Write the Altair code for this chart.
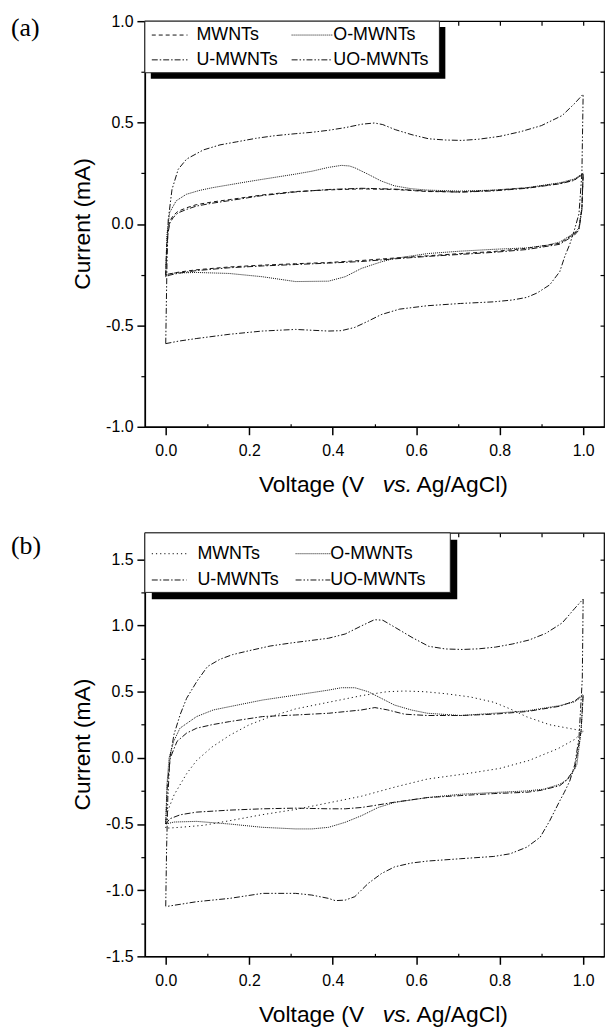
import altair as alt
import pandas as pd

FONT = "Liberation Sans"
SERIES = ["MWNTs", "O-MWNTs", "U-MWNTs", "UO-MWNTs"]
STYLES = ["dash", "fine", "dashdot", "dashdotdot", "sparse"]
DASHES = [[4, 3], [1, 1], [6, 2, 1.5, 2], [6, 2, 1.5, 2, 1.5, 2], [1.2, 3]]
X_MAJOR = [0.0, 0.2, 0.4, 0.6, 0.8, 1.0]
X_MINOR = [0.1, 0.3, 0.5, 0.7, 0.9]
X_TITLE = ["Voltage (V", "vs.", "Ag/AgCl)"]
Y_TITLE = "Current (mA)"
TAGS = ["(a)", "(b)"]

# ---------------- panel (a) ----------------
A_MWNT_VF = [0.0, 0.002, 0.005, 0.01, 0.018, 0.03, 0.05, 0.073, 0.11, 0.152, 0.231, 0.311, 0.39, 0.469, 0.548, 0.627, 0.706, 0.785, 0.865, 0.944, 0.979, 1.0]
A_MWNT_IF = [-0.25, -0.12, -0.03, 0.015, 0.042, 0.063, 0.08, 0.095, 0.108, 0.12, 0.143, 0.16, 0.168, 0.173, 0.17, 0.16, 0.158, 0.166, 0.178, 0.2, 0.218, 0.245]
A_MWNT_VR = [1.0, 0.997, 0.99, 0.979, 0.944, 0.865, 0.785, 0.706, 0.627, 0.548, 0.469, 0.39, 0.311, 0.231, 0.152, 0.073, 0.03, 0.01, 0.0]
A_MWNT_IR = [0.245, 0.08, -0.02, -0.048, -0.095, -0.12, -0.136, -0.146, -0.157, -0.168, -0.18, -0.19, -0.196, -0.203, -0.212, -0.226, -0.238, -0.246, -0.25]

A_U_VF = A_MWNT_VF
A_U_IF = [-0.26, -0.14, -0.05, 0.005, 0.032, 0.055, 0.072, 0.088, 0.102, 0.115, 0.14, 0.158, 0.17, 0.176, 0.172, 0.162, 0.157, 0.163, 0.176, 0.198, 0.215, 0.25]
A_U_VR = A_MWNT_VR
A_U_IR = [0.25, 0.07, -0.03, -0.055, -0.1, -0.126, -0.14, -0.15, -0.16, -0.172, -0.185, -0.193, -0.2, -0.207, -0.216, -0.23, -0.243, -0.252, -0.26]

A_O_VF = [0.0, 0.003, 0.0095, 0.025, 0.049, 0.08, 0.112, 0.152, 0.192, 0.231, 0.271, 0.311, 0.35, 0.39, 0.421, 0.44, 0.453, 0.485, 0.516, 0.548, 0.588, 0.627, 0.706, 0.785, 0.865, 0.944, 0.979, 1.0]
A_O_IF = [-0.25, -0.05, 0.057, 0.114, 0.146, 0.165, 0.179, 0.193, 0.207, 0.22, 0.233, 0.246, 0.26, 0.279, 0.289, 0.286, 0.277, 0.245, 0.212, 0.188, 0.174, 0.167, 0.162, 0.167, 0.179, 0.203, 0.222, 0.25]
A_O_VR = [1.0, 0.997, 0.99, 0.979, 0.944, 0.913, 0.865, 0.785, 0.706, 0.627, 0.548, 0.516, 0.469, 0.43, 0.39, 0.311, 0.231, 0.152, 0.073, 0.02, 0.0]
A_O_IR = [0.25, 0.08, -0.02, -0.045, -0.089, -0.105, -0.118, -0.125, -0.134, -0.146, -0.17, -0.187, -0.219, -0.26, -0.282, -0.284, -0.26, -0.244, -0.239, -0.242, -0.25]

A_UO_VF = [0.0, 0.003, 0.006, 0.015, 0.03, 0.05, 0.09, 0.13, 0.17, 0.215, 0.26, 0.31, 0.35, 0.39, 0.43, 0.47, 0.5, 0.52, 0.55, 0.59, 0.63, 0.67, 0.71, 0.75, 0.8, 0.85, 0.9, 0.95, 0.98, 1.0]
A_UO_IF = [-0.59, -0.2, 0.02, 0.17, 0.27, 0.32, 0.365, 0.39, 0.405, 0.422, 0.435, 0.445, 0.452, 0.462, 0.475, 0.492, 0.498, 0.49, 0.465, 0.44, 0.42, 0.414, 0.412, 0.418, 0.432, 0.455, 0.485, 0.535, 0.595, 0.64]
A_UO_VR = [1.0, 0.997, 0.99, 0.979, 0.968, 0.956, 0.944, 0.92, 0.89, 0.865, 0.83, 0.785, 0.706, 0.627, 0.56, 0.516, 0.485, 0.453, 0.421, 0.39, 0.35, 0.311, 0.231, 0.152, 0.073, 0.03, 0.0]
A_UO_IR = [0.64, 0.25, 0.05, -0.03, -0.1, -0.16, -0.235, -0.3, -0.34, -0.362, -0.375, -0.384, -0.392, -0.403, -0.42, -0.447, -0.479, -0.51, -0.526, -0.528, -0.524, -0.52, -0.528, -0.544, -0.565, -0.578, -0.59]

# ---------------- panel (b) ----------------
B_MWNT_VF = [0.0, 0.005, 0.02, 0.05, 0.074, 0.11, 0.153, 0.2, 0.25, 0.311, 0.39, 0.469, 0.53, 0.572, 0.62, 0.67, 0.73, 0.786, 0.825, 0.865, 0.92, 0.98, 1.0]
B_MWNT_IF = [-0.53, -0.4, -0.28, -0.12, -0.02, 0.08, 0.17, 0.25, 0.31, 0.37, 0.42, 0.47, 0.5, 0.505, 0.5, 0.485, 0.46, 0.42, 0.37, 0.31, 0.25, 0.215, 0.2]
B_MWNT_VR = [1.0, 0.98, 0.94, 0.87, 0.8, 0.72, 0.627, 0.55, 0.469, 0.39, 0.311, 0.23, 0.153, 0.09, 0.034, 0.01, 0.0]
B_MWNT_IR = [0.2, 0.14, 0.07, -0.02, -0.08, -0.12, -0.16, -0.22, -0.29, -0.34, -0.39, -0.43, -0.475, -0.51, -0.525, -0.53, -0.53]

B_O_VF = [0.0, 0.003, 0.008, 0.019, 0.034, 0.074, 0.114, 0.153, 0.232, 0.311, 0.39, 0.421, 0.453, 0.485, 0.517, 0.548, 0.588, 0.627, 0.707, 0.786, 0.865, 0.944, 0.98, 1.0]
B_O_IF = [-0.5, -0.2, 0.0, 0.124, 0.224, 0.312, 0.362, 0.387, 0.437, 0.474, 0.512, 0.53, 0.53, 0.5, 0.449, 0.399, 0.362, 0.337, 0.32, 0.337, 0.355, 0.395, 0.424, 0.47]
B_O_VR = [1.0, 0.995, 0.985, 0.968, 0.944, 0.905, 0.865, 0.786, 0.707, 0.627, 0.548, 0.509, 0.469, 0.43, 0.39, 0.35, 0.311, 0.232, 0.153, 0.074, 0.02, 0.0]
B_O_IR = [0.47, 0.2, -0.05, -0.15, -0.2, -0.237, -0.25, -0.262, -0.275, -0.3, -0.337, -0.375, -0.437, -0.487, -0.525, -0.537, -0.537, -0.525, -0.5, -0.48, -0.485, -0.5]

B_U_VF = [0.0, 0.004, 0.011, 0.027, 0.05, 0.074, 0.11, 0.153, 0.232, 0.311, 0.39, 0.469, 0.501, 0.532, 0.572, 0.627, 0.707, 0.786, 0.865, 0.944, 0.98, 1.0]
B_U_IF = [-0.5, -0.2, 0.0, 0.124, 0.187, 0.224, 0.25, 0.274, 0.312, 0.324, 0.337, 0.362, 0.38, 0.362, 0.33, 0.32, 0.32, 0.33, 0.35, 0.39, 0.43, 0.48]
B_U_VR = [1.0, 0.995, 0.98, 0.96, 0.944, 0.9, 0.865, 0.786, 0.707, 0.627, 0.548, 0.5, 0.469, 0.43, 0.39, 0.311, 0.232, 0.153, 0.074, 0.035, 0.01, 0.0]
B_U_IR = [0.48, 0.2, -0.08, -0.17, -0.21, -0.245, -0.26, -0.27, -0.285, -0.3, -0.335, -0.36, -0.375, -0.385, -0.385, -0.38, -0.385, -0.395, -0.41, -0.43, -0.46, -0.5]

B_UO_VF = [0.0, 0.002, 0.005, 0.01, 0.02, 0.035, 0.05, 0.075, 0.1, 0.13, 0.16, 0.2, 0.25, 0.3, 0.35, 0.39, 0.43, 0.47, 0.5, 0.52, 0.55, 0.59, 0.63, 0.67, 0.71, 0.75, 0.79, 0.83, 0.87, 0.91, 0.95, 0.98, 1.0]
B_UO_IF = [-1.12, -0.7, -0.3, 0.0, 0.18, 0.33, 0.45, 0.58, 0.69, 0.745, 0.78, 0.81, 0.845, 0.868, 0.888, 0.904, 0.936, 0.999, 1.044, 1.04, 0.985, 0.91, 0.843, 0.823, 0.819, 0.824, 0.837, 0.86, 0.89, 0.94, 1.02, 1.13, 1.2]
B_UO_VR = [1.0, 0.998, 0.99, 0.98, 0.968, 0.955, 0.944, 0.92, 0.897, 0.865, 0.825, 0.786, 0.707, 0.627, 0.588, 0.548, 0.517, 0.485, 0.453, 0.43, 0.406, 0.39, 0.35, 0.311, 0.232, 0.153, 0.074, 0.0]
B_UO_IR = [1.2, 0.6, 0.15, -0.05, -0.175, -0.26, -0.325, -0.475, -0.6, -0.675, -0.725, -0.745, -0.762, -0.78, -0.795, -0.824, -0.874, -0.949, -1.049, -1.075, -1.079, -1.062, -1.037, -1.024, -1.024, -1.062, -1.087, -1.124]

PANEL_A = [
    ("MWNTs", "dash", A_MWNT_VF, A_MWNT_IF, A_MWNT_VR, A_MWNT_IR),
    ("O-MWNTs", "fine", A_O_VF, A_O_IF, A_O_VR, A_O_IR),
    ("U-MWNTs", "dashdot", A_U_VF, A_U_IF, A_U_VR, A_U_IR),
    ("UO-MWNTs", "dashdotdot", A_UO_VF, A_UO_IF, A_UO_VR, A_UO_IR),
]
PANEL_B = [
    ("MWNTs", "sparse", B_MWNT_VF, B_MWNT_IF, B_MWNT_VR, B_MWNT_IR),
    ("O-MWNTs", "fine", B_O_VF, B_O_IF, B_O_VR, B_O_IR),
    ("U-MWNTs", "dashdot", B_U_VF, B_U_IF, B_U_VR, B_U_IR),
    ("UO-MWNTs", "dashdotdot", B_UO_VF, B_UO_IF, B_UO_VR, B_UO_IR),
]


def build_df(curves):
    rows = []
    for name, style, vf, ifw, vr, irv in curves:
        for k, (v, i) in enumerate(zip(vf + vr, ifw + irv)):
            rows.append({"series": name, "style": style, "V": v, "I": i, "k": k})
    return pd.DataFrame(rows)


W = 463
ONE = pd.DataFrame({"a": [0]})
LABEL_EXPR = "datum.value < 0 ? '-' + format(-datum.value, '.1f') : format(datum.value, '.1f')"


def panel(curves, ydom, ymajor, yminor, H, leg, tag, tag_y):
    df = build_df(curves)
    xs = alt.Scale(domain=[-0.05, 1.05], nice=False, zero=False)
    ys = alt.Scale(domain=ydom, nice=False, zero=False)
    dash = alt.StrokeDash("style:N", scale=alt.Scale(domain=STYLES, range=DASHES), legend=None)
    common = dict(grid=False, title=None, tickColor="black", domainColor="black")
    lines = alt.Chart(df).mark_line(strokeWidth=1, color="#111").encode(
        x=alt.X("V:Q", scale=xs, axis=alt.Axis(orient="bottom", values=X_MAJOR, labelExpr=LABEL_EXPR,
                                              tickSize=8, tickWidth=1.5, domainWidth=1.5, labelPadding=8,
                                              labelFont=FONT, labelFontSize=16, labelColor="black", **common)),
        y=alt.Y("I:Q", scale=ys, axis=alt.Axis(orient="left", values=ymajor, labelExpr=LABEL_EXPR,
                                              tickSize=8, tickWidth=1.5, domainWidth=1.5, labelPadding=4,
                                              labelFont=FONT, labelFontSize=16, labelColor="black", **common)),
        detail="series:N",
        order="k:Q",
        strokeDash=dash,
    )
    ghost = alt.Chart(df).mark_point(opacity=0)
    minor = ghost.encode(
        x=alt.X("V:Q", scale=xs, axis=alt.Axis(orient="top", offset=-H, values=X_MINOR, tickSize=3, tickWidth=1.2,
                                              labels=False, domain=False, **common)),
        y=alt.Y("I:Q", scale=ys, axis=alt.Axis(orient="left", values=yminor, tickSize=4, tickWidth=1.2,
                                              labels=False, domain=False, **common)),
    )
    mirror = ghost.encode(
        x=alt.X("V:Q", scale=xs, axis=alt.Axis(orient="bottom", offset=-H, values=X_MAJOR + X_MINOR, tickSize=4,
                                              tickWidth=1.2, labels=False, domain=False, **common)),
        y=alt.Y("I:Q", scale=ys, axis=alt.Axis(orient="left", offset=-W, values=ymajor + yminor, tickSize=4,
                                              tickWidth=1.2, labels=False, domain=False, **common)),
    )

    bx0, bx1, by0, by1, sh, rows, c1, t1, c2, t2 = leg
    layers = [lines, minor, mirror]
    layers.append(alt.Chart(ONE).mark_rect(color="black").encode(
        x=alt.value(bx0 + sh), x2=alt.value(bx1 + sh), y=alt.value(by0 + sh), y2=alt.value(by1 + sh)))
    layers.append(alt.Chart(ONE).mark_rect(fill="white", stroke="#222", strokeWidth=1).encode(
        x=alt.value(bx0), x2=alt.value(bx1), y=alt.value(by0), y2=alt.value(by1)))
    style_of = {c[0]: c[1] for c in curves}
    pos = [(c1, t1, rows[0]), (c2, t2, rows[0]), (c1, t1, rows[1]), (c2, t2, rows[1])]
    for name, (sym, tx, ry) in zip(SERIES, pos):
        d = DASHES[STYLES.index(style_of[name])]
        layers.append(alt.Chart(ONE).mark_rule(color="#111", strokeWidth=1, strokeDash=d).encode(
            x=alt.value(sym[0]), x2=alt.value(sym[1]), y=alt.value(ry)))
        layers.append(alt.Chart(pd.DataFrame({"t": [name]})).mark_text(
            align="left", baseline="middle", font=FONT, fontSize=18, color="black").encode(
            text="t:N", x=alt.value(tx), y=alt.value(ry)))

    # axis titles
    xt = [(X_TITLE[0], 115, "normal"), (X_TITLE[1], 240, "italic"), (X_TITLE[2], 274, "normal")]
    for txt, xx, st in xt:
        layers.append(alt.Chart(pd.DataFrame({"t": [txt]})).mark_text(
            align="left", baseline="alphabetic", font=FONT, fontSize=23, fontStyle=st, color="black").encode(
            text="t:N", x=alt.value(xx), y=alt.value(H + 66)))
    layers.append(alt.Chart(pd.DataFrame({"t": [Y_TITLE]})).mark_text(
        align="center", baseline="middle", angle=270, font=FONT, fontSize=23, color="black").encode(
        text="t:N", x=alt.value(-62), y=alt.value(H / 2)))
    layers.append(alt.Chart(pd.DataFrame({"t": [tag]})).mark_text(
        align="left", baseline="middle", font="Liberation Serif", fontSize=26, color="black").encode(
        text="t:N", x=alt.value(-135), y=alt.value(tag_y)))

    return alt.layer(*layers).resolve_axis(x="independent", y="independent").properties(width=W, height=H)


LEG_A = (0, 297, 0, 52, 6, (14, 39), (7, 43), 52, (148, 189), 190)
LEG_B = (0, 308, 0, 60, 7, (21, 47.5), (7, 42), 53, (152, 187), 187)

pa = panel(PANEL_A, [-1.0, 1.0], [-1.0, -0.5, 0.0, 0.5, 1.0], [-0.75, -0.25, 0.25, 0.75], 409, LEG_A, TAGS[0], 6.5)
pb = panel(PANEL_B, [-1.5, 1.7], [-1.5, -1.0, -0.5, 0.0, 0.5, 1.0, 1.5], [-1.25, -0.75, -0.25, 0.25, 0.75, 1.25],
           427, LEG_B, TAGS[1], 13.5)

chart = alt.vconcat(pa, pb, spacing=33).resolve_scale(x="independent", y="independent").properties(
    padding={"left": 2, "top": 0, "right": 0, "bottom": 0}, background="white"
).configure_view(stroke="black", strokeWidth=1.2)

chart.save("out.html", embed_options={"renderer": "svg", "actions": False})
